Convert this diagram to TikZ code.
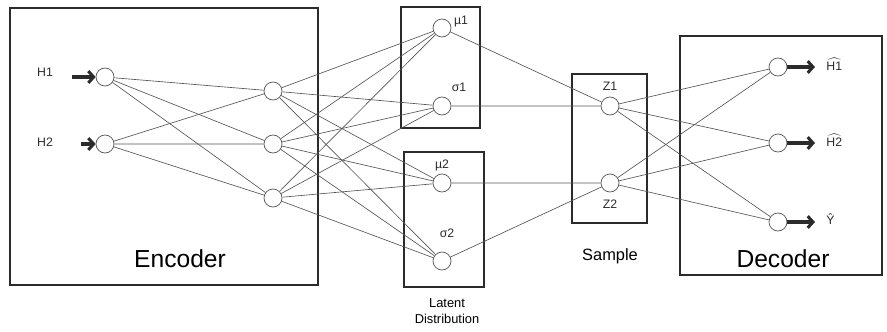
\documentclass[tikz,border=0pt]{standalone}
\usepackage{fontspec}
\usepackage{amsmath}
\setmainfont{Liberation Sans}
\usetikzlibrary{arrows.meta}
\definecolor{boxgray}{HTML}{2B2B2B}
\definecolor{wiregray}{HTML}{555555}

\begin{document}
\begin{tikzpicture}[x=0.03cm,y=-0.03cm,
  neuron/.style={circle,draw=wiregray,fill=white,line width=0.6pt,minimum size=0.54cm,inner sep=0pt},
  wire/.style={draw=wiregray,line width=0.55pt},
  block/.style={draw=boxgray,line width=2.5pt},
  feed/.style={draw=boxgray,line width=2.6pt,-{Straight Barb[length=4.5pt,width=10pt]}},
  lab/.style={font=\fontsize{10.5}{12}\selectfont,text=boxgray,inner sep=1pt},
  title/.style={font=\fontsize{21}{24}\selectfont,text=black}]
\useasboundingbox (0,0) rectangle (887,331);

\draw[block] (10,8) rectangle (318,285);
\draw[block] (401,7) rectangle (480,128);
\draw[block] (404,152) rectangle (484,287);
\draw[block] (572,74) rectangle (647,223);
\draw[block] (680,36) rectangle (882,275);

\node[neuron] (i1) at (105,77) {};
\node[neuron] (i2) at (105,144) {};
\node[neuron] (h1) at (273,91) {};
\node[neuron] (h2) at (273,144) {};
\node[neuron] (h3) at (273,198) {};
\node[neuron] (mu1) at (442,28) {};
\node[neuron] (s1) at (442,106) {};
\node[neuron] (mu2) at (442,183) {};
\node[neuron] (s2) at (442,261) {};
\node[neuron] (z1) at (610,106) {};
\node[neuron] (z2) at (610,183) {};
\node[neuron] (o1) at (778,67) {};
\node[neuron] (o2) at (778,143) {};
\node[neuron] (o3) at (778,222) {};

\draw[wire] (i1) -- (h1) (i1) -- (h2) (i1) -- (h3);
\draw[wire] (i2) -- (h1) (i2) -- (h2) (i2) -- (h3);
\draw[wire] (h1) -- (mu1) (h1) -- (s1) (h1) -- (mu2) (h1) -- (s2);
\draw[wire] (h2) -- (mu1) (h2) -- (s1) (h2) -- (mu2) (h2) -- (s2);
\draw[wire] (h3) -- (mu1) (h3) -- (s1) (h3) -- (mu2) (h3) -- (s2);
\draw[wire] (mu1) -- (z1) (s1) -- (z1) (mu2) -- (z2) (s2) -- (z2);
\draw[wire] (z1) -- (o1) (z1) -- (o2) (z1) -- (o3);
\draw[wire] (z2) -- (o1) (z2) -- (o2) (z2) -- (o3);

\coordinate (in1) at (72,77);
\coordinate (in2) at (81,144);
\coordinate (out1) at (815,67);
\coordinate (out2) at (815,143);
\coordinate (out3) at (815,222);
\draw[feed] (in1) -- (i1.west);
\draw[feed] (in2) -- (i2.west);
\draw[feed] (o1.east) -- (out1);
\draw[feed] (o2.east) -- (out2);
\draw[feed] (o3.east) -- (out3);

\node[lab] (lh1) at (45,72) {H1};
\node[lab] (lh2) at (45,142) {H2};
\node[lab] (lmu1) at (461,22) {µ1};
\node[lab] (ls1) at (459,87) {σ1};
\node[lab] (lmu2) at (442,165) {µ2};
\node[lab] (ls2) at (447,233) {σ2};
\node[lab] (lz1) at (610,86) {Z1};
\node[lab] (lz2) at (610,204) {Z2};
\node[lab,anchor=west] (lo1) at (825,64) {$\widehat{\mbox{H1}}$};
\node[lab,anchor=west] (lo2) at (825,140) {$\widehat{\mbox{H2}}$};
\node[lab,anchor=west] (lo3) at (825,219) {\^{Y}};

\node[title] (enc) at (180,259) {Encoder};
\node[title] (dec) at (783,259) {Decoder};
\node[font=\fontsize{14}{16}\selectfont] (smp) at (610,256) {Sample};
\node[font=\fontsize{11}{14}\selectfont,align=center] (lat) at (447,311) {Latent\\Distribution};
\end{tikzpicture}
\end{document}
